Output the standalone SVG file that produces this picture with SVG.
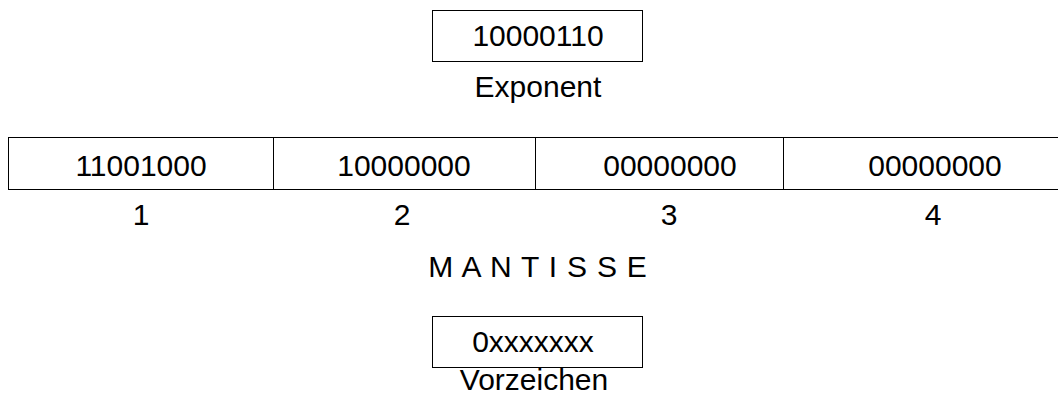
<svg xmlns="http://www.w3.org/2000/svg" width="1058" height="408" viewBox="0 0 1058 408">
<style>
.b{fill:#fff;stroke:#000;stroke-width:1}
.t{font-family:"Liberation Sans",Arial,sans-serif;font-size:30px;fill:#000;text-anchor:middle}
</style>
<rect width="1058" height="408" fill="#fff"/>
<g id="exponent">
<rect class="b" x="432.5" y="10.5" width="210" height="51"/>
<text class="t" x="538" y="46">10000110</text>
<text class="t" x="538" y="97">Exponent</text>
</g>
<g id="mantisse">
<rect class="b" x="8.5" y="137.5" width="1060" height="52"/>
<line x1="273.5" y1="137.5" x2="273.5" y2="189.5" stroke="#000"/>
<line x1="535.5" y1="137.5" x2="535.5" y2="189.5" stroke="#000"/>
<line x1="783.5" y1="137.5" x2="783.5" y2="189.5" stroke="#000"/>
<text class="t" x="141" y="176">11001000</text>
<text class="t" x="404" y="176">10000000</text>
<text class="t" x="670" y="176">00000000</text>
<text class="t" x="935" y="176">00000000</text>
<text class="t" x="141" y="225">1</text>
<text class="t" x="402" y="225">2</text>
<text class="t" x="669" y="225">3</text>
<text class="t" x="933" y="225">4</text>
<text class="t" x="538" y="277" letter-spacing="0.8">M A N T I S S E</text>
</g>
<g id="vorzeichen">
<rect class="b" x="432.5" y="316.5" width="210" height="51"/>
<text class="t" x="533" y="352">0xxxxxxx</text>
<text class="t" x="534" y="390">Vorzeichen</text>
</g>
<g id="connectors"></g>
</svg>
